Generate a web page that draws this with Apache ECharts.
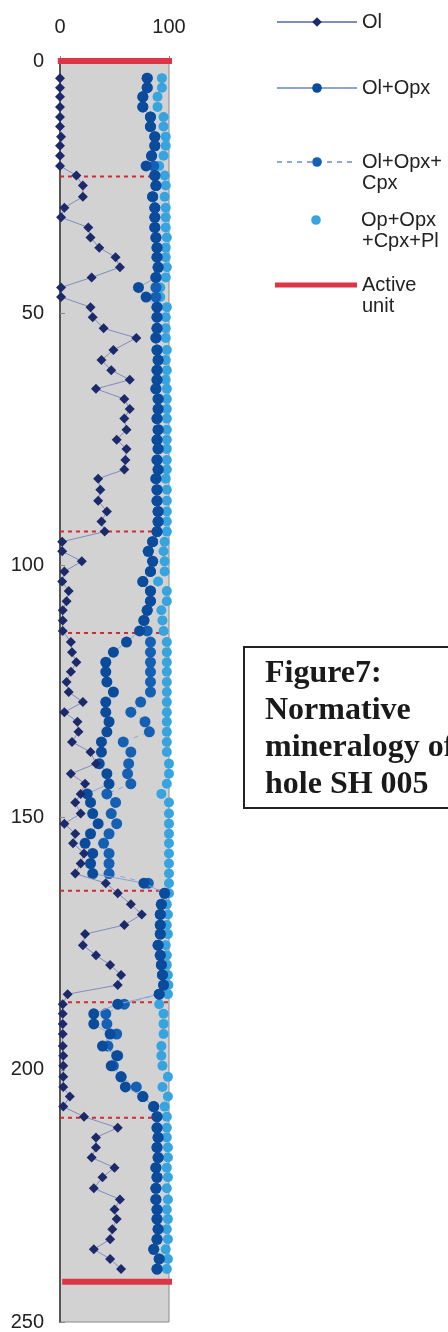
<!DOCTYPE html>
<html><head><meta charset="utf-8">
<script src="https://cdn.jsdelivr.net/npm/echarts@6/dist/echarts.min.js"></script>
<style>html,body{margin:0;padding:0;background:#fff}#c{width:448px;height:1332px}</style>
</head><body><div id="c"></div>
<script>
// depth (m) of each sample
const depth = [3.4,5.3,7.1,9.1,11.1,13.0,15.0,16.8,18.8,20.8,22.7,24.7,26.9,29.1,31.0,33.0,35.0,37.0,38.9,40.9,42.9,44.9,46.8,48.8,50.8,53.0,54.9,57.3,59.3,61.3,63.2,65.0,67.0,69.0,70.9,73.1,75.1,76.9,79.1,81.0,82.8,85.0,87.2,89.3,91.3,93.3,95.3,97.2,99.2,101.2,103.2,105.1,107.1,108.9,110.9,113.0,115.2,117.2,119.2,121.1,123.1,125.1,127.1,129.1,131.0,133.0,135.0,137.0,139.3,141.3,143.3,145.3,147.0,149.2,151.2,153.2,155.1,157.1,159.1,161.1,163.0,165.0,167.2,169.2,171.3,173.1,175.3,177.3,179.2,181.2,183.2,185.0,187.0,188.9,190.9,192.9,195.3,197.2,199.2,201.4,203.4,205.3,207.3,209.3,211.5,213.4,215.4,217.4,219.4,221.3,223.5,225.7,227.7,229.6,231.6,233.6,235.6,237.5,239.5];
const ol = [0,0,0,0,0,0,1,0, 0,0,
  15,21,21,4,1,26,28,36,51,55,29,1,1,28,30,40,70,49,38,47,64,33,59,
  64,59,61,52,61,60,59,35,37,35,43,38,41,
  2,2,20,4,2,8,6,2.5,2.5,2.5,10,
  11,15,10,6,8,21,4,16,17,11,28,33,10,23,19,14,19,4,14,12,22,19,14,42,53,
  65,75,59,23,21,33,46,56,53,7,
  2.5,2.5,2.5,2.5,2.5,3,3,3,3,9,3,
  22,53,33,33,29,50,39,31,55,50,52,48,46,31,46,56];
const olOpx = [80,80,76,76,83,83,87,87, 84,79,
  87,88,85,87,87,87,88,89,89,90,88,72,79,89,89,89,88,89,90,89,89,88,90,
  90,89,90,89,90,89,90,88,89,89,90,90,89,
  85,81,85,83,76,83,83,80,77,73,61,
  49,42,42,43,49,42,42,45,43,38,38,36,43,45,25,28,30,35,28,23,30,28,30,77,96,
  93,92,92,92,90,92,93,94,95,91,
  53,31,31,46,39,52,47,56,60,76,86,
  89,89,90,89,90,88,89,88,88,89,89,90,89,86,91,89];
const olOpxCpx = [80,80,76,76,83,83,87,87, 84,86,
  87,88,85,87,87,87,88,89,89,90,88,88,88,89,89,89,88,89,90,89,89,88,90,
  90,89,90,89,90,89,90,88,89,89,90,90,89,
  85,81,85,83,76,83,83,80,77,80,83,
  83,83,83,83,83,74,65,78,82,58,65,63,62,65,43,51,47,52,45,40,45,45,45,81,96,
  93,92,92,92,90,92,93,94,95,91,
  59,42,43,52,44,53,49,56,70,76,86,
  89,89,90,89,90,88,89,88,88,89,89,90,89,86,91,89];
const opOpxCpxPl = [93.5,93.5,89.5,89.5,95,95,97,97, 95,91,
  96,97,96,97,97,97,98,97,97,98,97,92,92,98,97,97,97,98,97,98,97,98,98,
  98,98,98,98,98,98,98,97,98,98,98,98,98,
  96,95,96,96,90,98,98,93,94,95,98,
  98,98,98,98,98,98,98,98,98,98,98,100,100,98,93,100,100,100,100,100,100,100,100,100,100,
  98,99,98,99,97,98,98,99,99.5,99,
  91,95,95,95,93,93,94,99,94,99,96,
  98,98,98,99,99,98,99,98,99,98,99,98,99,97,99,98];
const unitBoundaries = [22.9, 93.3, 113.4, 164.5, 186.6, 209.5];
const activeUnit = [0, 242];
const xTickLabels = ['0', '100'];
const yTickLabels = ['0', '50', '100', '150', '200', '250'];
const seriesNames = ['Ol', 'Ol+Opx', 'Ol+Opx+Cpx', 'Op+Opx+Cpx+Pl', 'Active unit'];
const legendFirstLines = ['Ol', 'Ol+Opx', 'Ol+Opx+', 'Op+Opx', 'Active'];
const legendSecondLines = ['', '', 'Cpx', '+Cpx+Pl', 'unit'];
const captionLines = ['Figure7:', 'Normative', 'mineralogy of', 'hole SH 005'];

const pairs = vals => vals.map((v, i) => [v, depth[i]]);
const boundaryData = [];
unitBoundaries.forEach(d => { boundaryData.push([0, d], [105, d], ['-', '-']); });
const activeData = [[-2, activeUnit[0]], [105.5, activeUnit[0]], ['-', '-'], [2, activeUnit[1]], [109, activeUnit[1]]];

const RED = '#dc3545';
const FONT = 'Liberation Sans';
const legendCenters = [23, 89, 163, 221, 286];
const legends = seriesNames.map((n, i) => {
  const isActive = n === 'Active unit';
  return {
    data: [isActive ? { name: n, icon: 'rect' } : n],
    left: isActive ? 275 : 276, top: legendCenters[i] - 11, orient: 'vertical', padding: 0,
    itemWidth: isActive ? 82 : 80, itemHeight: isActive ? 5 : 12, selectedMode: false,
    formatter: name => legendFirstLines[seriesNames.indexOf(name)],
    textStyle: { fontSize: 20, fontFamily: FONT, color: '#222' }
  };
});

const graphics = [];
legendSecondLines.forEach((t, i) => {
  if (!t) return;
  graphics.push({ type: 'text', left: 362, top: legendCenters[i] + 10,
    style: { text: t, font: '20px "' + FONT + '"', fill: '#222' } });
});
graphics.push({ type: 'rect', left: 243, top: 646, shape: { width: 230, height: 161 },
  style: { fill: '#fff', stroke: '#222', lineWidth: 2 } });
graphics.push({ type: 'text', left: 265, top: 655,
  style: { text: captionLines.join('\n'), font: 'bold 32px "Liberation Serif"', fill: '#1a1a1a', lineHeight: 37 } });

const chart = echarts.init(document.getElementById('c'), null, { renderer: 'canvas' });
chart.setOption({
  animation: false,
  backgroundColor: '#fff',
  grid: { left: 60, top: 61, width: 109, height: 1265, show: true, backgroundColor: '#d2d2d2', borderColor: '#8a8a8a', borderWidth: 1 },
  xAxis: { type: 'value', position: 'top', min: 0, max: 100, interval: 100,
    axisLine: { show: true, lineStyle: { color: '#666' } },
    axisTick: { show: true, length: 5, lineStyle: { color: '#888' } },
    splitLine: { show: false },
    axisLabel: { margin: 24, fontSize: 20, fontFamily: FONT, color: '#222',
      formatter: v => xTickLabels[v / 100] } },
  yAxis: { type: 'value', inverse: true, min: 0, max: 250, interval: 50,
    axisLine: { show: true, lineStyle: { color: '#555', width: 2 } },
    axisTick: { show: true, inside: true, length: 5, lineStyle: { color: '#888' } },
    splitLine: { show: false },
    axisLabel: { margin: 16, fontSize: 20, fontFamily: FONT, color: '#222',
      formatter: v => yTickLabels[v / 50] } },
  legend: legends,
  graphic: graphics,
  series: [
    { name: 'unit boundary', type: 'line', data: boundaryData, clip: false, symbol: 'none', z: 3,
      lineStyle: { color: '#d42a35', width: 2, type: [4, 4] }, silent: true },
    { name: 'Op+Opx+Cpx+Pl', type: 'line', data: pairs(opOpxCpxPl), symbol: 'circle', symbolSize: 10, showAllSymbol: true, z: 4,
      itemStyle: { color: '#38a4df' }, lineStyle: { opacity: 0, width: 0 } },
    { name: 'Ol+Opx+Cpx', type: 'line', data: pairs(olOpxCpx), symbol: 'circle', symbolSize: 11, showAllSymbol: true, z: 5,
      itemStyle: { color: '#1660b4' }, lineStyle: { color: '#8fa8d8', width: 1, type: [5, 5] } },
    { name: 'Ol+Opx', type: 'line', data: pairs(olOpx), symbol: 'circle', symbolSize: 11, showAllSymbol: true, z: 6,
      itemStyle: { color: '#0b4b9c' }, lineStyle: { color: '#8fa2d2', width: 1 } },
    { name: 'Ol', type: 'line', data: pairs(ol), symbol: 'diamond', symbolSize: 10, showAllSymbol: true, z: 7,
      itemStyle: { color: '#1c2a6b' }, lineStyle: { color: '#7f8cbe', width: 1 } },
    { name: 'Active unit', type: 'line', data: activeData, clip: false, symbol: 'none', z: 8,
      itemStyle: { color: RED }, lineStyle: { color: RED, width: 6 } }
  ]
});
</script></body></html>
